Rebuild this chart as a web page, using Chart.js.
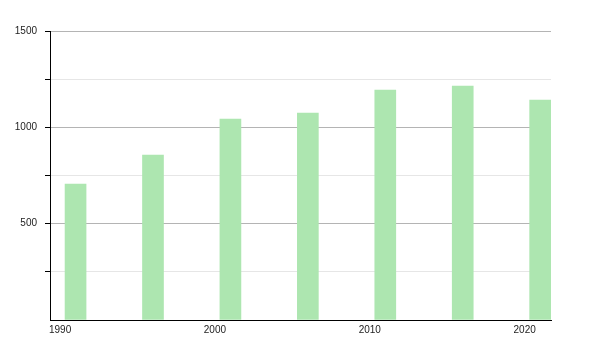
<!DOCTYPE html>
<html>
<head>
<meta charset="utf-8">
<script src="https://cdn.jsdelivr.net/npm/chart.js@4/dist/chart.umd.min.js"></script>
<style>
    html, body { margin: 0; padding: 0; background: #fff; }
    #wrap { width: 600px; height: 350px; }
</style>
</head>
<body>
<div id="wrap"><canvas id="chart"></canvas></div>
<script>
// census years and counts
const years = [1991, 1996, 2001, 2006, 2011, 2016, 2021];
const counts = [706, 856, 1043, 1074, 1194, 1214, 1142];

const xTicks = [1990, 2000, 2010, 2020];
const yTicks = [0, 250, 500, 750, 1000, 1250, 1500];
const yLabelled = [500, 1000, 1500];

document.addEventListener('DOMContentLoaded', () => {
    const ctx = document.getElementById('chart');
    Chart.defaults.font.family = '"Liberation Sans", Arial, sans-serif';
    Chart.defaults.font.size = 10;
    Chart.defaults.color = '#222';

    new Chart(ctx, {
        type: 'bar',
        data: {
            datasets: [{
                data: years.map((y, i) => ({ x: y, y: counts[i] })),
                backgroundColor: '#ade6b0',
                borderWidth: 0,
                barThickness: 21
            }]
        },
        options: {
            responsive: true,
            maintainAspectRatio: false,
            animation: false,
            layout: { padding: { top: 31, right: 49, left: 0, bottom: 0 } },
            plugins: {
                legend: { display: false },
                tooltip: { enabled: false }
            },
            scales: {
                x: {
                    type: 'linear',
                    offset: false,
                    min: 1989.35,
                    max: 2021.7,
                    afterBuildTicks: scale => { scale.ticks = xTicks.map(v => ({ value: v })); },
                    afterFit: scale => { scale.height = 30; },
                    grid: { display: false, drawTicks: false, offset: false },
                    border: { color: '#000', width: 1 },
                    ticks: { padding: 4, maxRotation: 0, autoSkip: false, callback: v => String(v) }
                },
                y: {
                    min: 0,
                    max: 1500,
                    afterBuildTicks: scale => { scale.ticks = yTicks.map(v => ({ value: v })); },
                    afterFit: scale => { scale.width = 50; },
                    grid: {
                        color: c => yLabelled.includes(c.tick.value) ? '#b4b4b4' : '#e6e6e6',
                        tickColor: c => c.tick.value === 0 ? 'rgba(0,0,0,0)' : '#000',
                        tickLength: 5,
                        drawTicks: true
                    },
                    border: { color: '#000', width: 1 },
                    ticks: {
                        padding: 8,
                        autoSkip: false,
                        callback: v => yLabelled.includes(v) ? String(v) : ''
                    }
                }
            }
        }
    });
});
</script>
</body>
</html>
